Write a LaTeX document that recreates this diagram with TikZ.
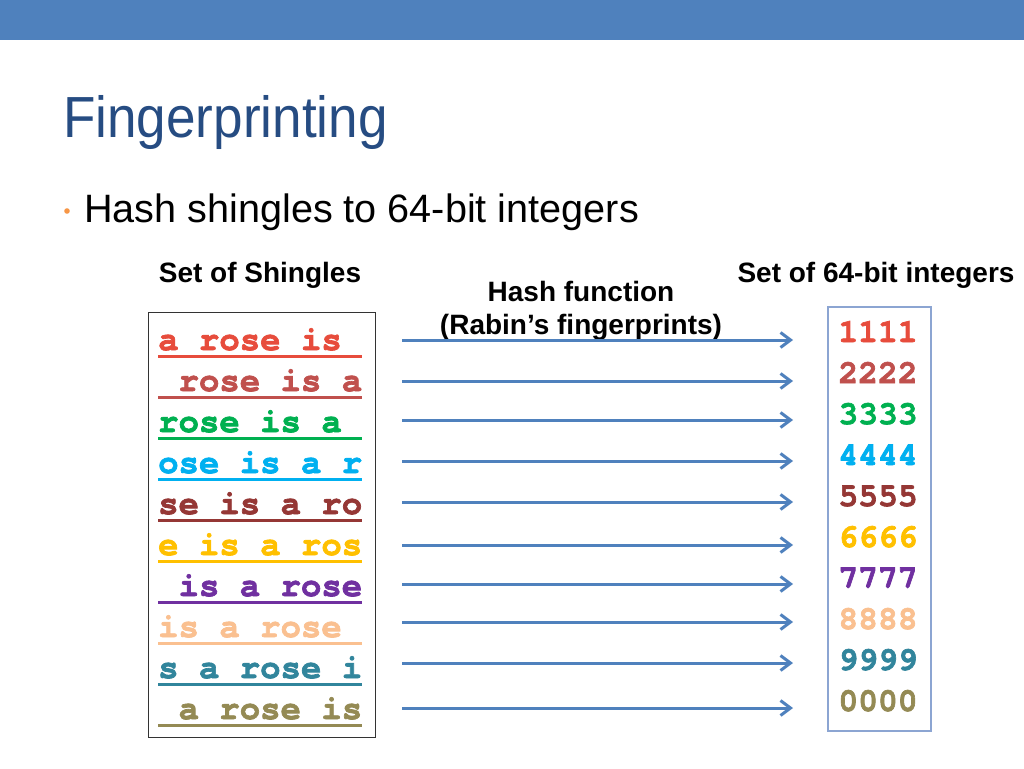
\documentclass[tikz,border=0pt]{standalone}
\usepackage{fontspec}
\setmainfont{Liberation Sans}
\newfontfamily\titlefam[FakeStretch=0.915]{Liberation Sans}
\newfontfamily\monofam{texgyrecursor}[Extension=.otf, UprightFont=*-regular, BoldFont=*-bold, BoldFeatures={FakeBold=2}]
\usetikzlibrary{arrows.meta}
\definecolor{barblue}{RGB}{79,129,189}
\definecolor{titleblue}{RGB}{38,76,130}
\definecolor{bulletor}{RGB}{247,150,70}
\definecolor{cA}{RGB}{231,76,60}
\definecolor{cB}{RGB}{192,80,77}
\definecolor{cC}{RGB}{0,176,80}
\definecolor{cD}{RGB}{0,176,240}
\definecolor{cE}{RGB}{149,55,53}
\definecolor{cF}{RGB}{255,192,0}
\definecolor{cG}{RGB}{112,48,160}
\definecolor{cH}{RGB}{250,192,144}
\definecolor{cI}{RGB}{49,133,156}
\definecolor{cJ}{RGB}{148,138,84}
\definecolor{boxblue}{RGB}{140,165,210}
\tikzset{
  shing/.style={inner sep=0pt, anchor=base west, text height=24pt, text depth=6pt,
     font=\monofam\bfseries\fontsize{34}{40}\selectfont},
  uline/.style={line width=3pt},
  numb/.style={inner sep=0pt, anchor=base, font=\monofam\bfseries\fontsize{33}{38}\selectfont},
  head/.style={inner sep=0pt, anchor=base, font=\bfseries\fontsize{28}{32}\selectfont},
  arr/.style={draw=barblue, line width=3pt, -{Straight Barb[length=10pt,width=15pt]}},
}
\begin{document}
\begin{tikzpicture}[x=1pt,y=-1pt]
\useasboundingbox (0,0) rectangle (1024,768);
\fill[white] (0,0) rectangle (1024,768);
\fill[barblue] (0,0) rectangle (1024,40);
\node[inner sep=0pt, anchor=base west, text=titleblue, font=\titlefam\fontsize{58}{62}\selectfont] (title) at (63,137) {Fingerprinting};
\fill[bulletor] (67,211) circle (2.8);
\node[inner sep=0pt, anchor=base west, font=\fontsize{39.6}{44}\selectfont] (bul) at (84,222.5) {Hash shingles to 64-bit integers};
\node[head] (h1) at (260,282) {Set of Shingles};
\node[head] (h2) at (581,301) {Hash function};
\node[head] (h3) at (581,334) {(Rabin’s fingerprints)};
\node[head] (h4) at (876,282) {Set of 64-bit integers};
% boxes
\draw[draw=black!80, line width=1pt] (148,312) rectangle (375,737);
\draw[draw=boxblue, line width=1.3pt] (828,307) rectangle (931,731);
% shingles
\foreach \i/\t/\c in {1/{a~rose~is~}/cA, 2/{~rose~is~a}/cB, 3/{rose~is~a~}/cC, 4/{ose~is~a~r}/cD, 5/{se~is~a~ro}/cE,
  6/{e~is~a~ros}/cF, 7/{~is~a~rose}/cG, 8/{is~a~rose~}/cH, 9/{s~a~rose~i}/cI, 10/{~a~rose~is}/cJ}{
  \node[shing, text=\c] (s\i) at (158,{350+41*(\i-1)}) {\t\null};
  \draw[uline, draw=\c] (s\i.south west) -- (s\i.south east);
}
% numbers
\foreach \i/\t/\c in {1/1111/cA, 2/2222/cB, 3/3333/cC, 4/4444/cD, 5/5555/cE,
  6/6666/cF, 7/7777/cG, 8/8888/cH, 9/9999/cI, 10/0000/cJ}{
  \node[numb, text=\c] (n\i) at (878,{342+41*(\i-1)}) {\t};
}
% arrows
\foreach \i/\y in {1/340, 2/381, 3/420, 4/461, 5/502, 6/545, 7/584, 8/622, 9/663, 10/708}{
  \coordinate (a\i) at (402,\y);
  \coordinate (b\i) at (793,\y);
  \draw[arr] (a\i) -- (b\i);
}
\end{tikzpicture}
\end{document}
